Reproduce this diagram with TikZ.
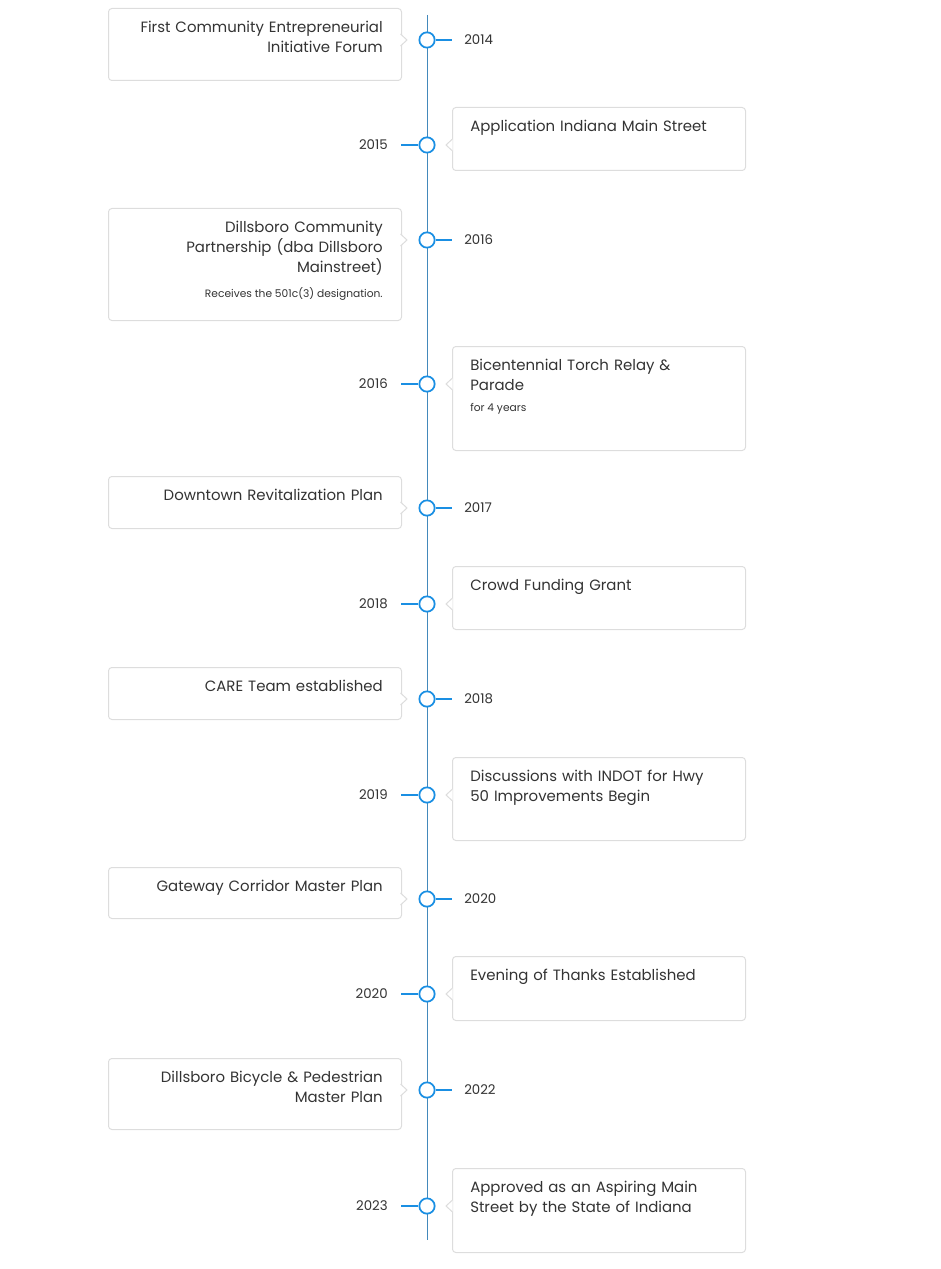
\documentclass[tikz,border=0pt]{standalone}
\usepackage{fontspec}
\setmainfont{Poppins}
\usetikzlibrary{calc}
\definecolor{tblue}{HTML}{1A8FE3}
\definecolor{tborder}{HTML}{DDDDDD}
\definecolor{ttext}{HTML}{333333}
\tikzset{
  x=0.75pt,y=-0.75pt,
  card/.style={draw=tborder,line width=0.75pt,fill=white,rounded corners=2.5pt,minimum width=219.75pt,inner sep=0pt},
  dot/.style={circle,draw=tblue,line width=1.3pt,fill=white,minimum size=11.5pt,inner sep=0pt},
  yr/.style={font=\fontsize{10}{12}\selectfont,text=ttext,inner sep=0pt},
  ttl/.style={font=\fontsize{11.2}{15}\selectfont,text=ttext,inner sep=0pt,text width=210pt},
  sub/.style={font=\fontsize{8}{10}\selectfont,text=ttext,inner sep=0pt},
  conn/.style={draw=tblue,line width=0.8pt},
}
% #1 name, #2 circle y, #3 box top, #4 box bottom, #5 year, #6 title, #7 subtitle
\newcommand{\leftentry}[7]{
  \node[card,minimum height={(#4-#3)*0.75pt},anchor=north west] (#1box) at (108,#3) {};
  \fill[white] (400.5,#2-6) -- (407,#2) -- (400.5,#2+6) -- cycle;
  \draw[tborder,line width=0.75pt] (400.5,#2-6) -- (407,#2) -- (400.5,#2+6);
  \node[ttl,align=right,anchor=north east] (#1t) at (383,#3+13) {#6};
  \ifx\relax#7\relax\else\node[sub,anchor=north east] (#1s) at (#1t.south east) [yshift=-9pt] {#7};\fi
  \node[dot] (#1c) at (427,#2) {};
  \coordinate (#1e) at (452,#2);
  \draw[conn] (#1c) -- (#1e);
  \node[yr,anchor=west] (#1y) at (464,#2) {#5};
}
\newcommand{\rightentry}[7]{
  \node[card,minimum height={(#4-#3)*0.75pt},anchor=north west] (#1box) at (452,#3) {};
  \fill[white] (452.5,#2-6) -- (446,#2) -- (452.5,#2+6) -- cycle;
  \draw[tborder,line width=0.75pt] (452.5,#2-6) -- (446,#2) -- (452.5,#2+6);
  \node[ttl,align=left,anchor=north west] (#1t) at (470,#3+13) {#6};
  \ifx\relax#7\relax\else\node[sub,anchor=north west] (#1s) at (#1t.south west) [yshift=-9pt] {#7};\fi
  \node[dot] (#1c) at (427,#2) {};
  \coordinate (#1e) at (401,#2);
  \draw[conn] (#1c) -- (#1e);
  \node[yr,anchor=east] (#1y) at (388,#2) {#5};
}
\begin{document}
\begin{tikzpicture}
\useasboundingbox (0,0) rectangle (940,1269);
\coordinate (axtop) at (427,15);
\coordinate (axbot) at (427,1240);
\draw[tblue!60!gray,line width=0.7pt] (axtop) -- (axbot);
\leftentry{a}{40}{8}{80}{2014}{First Community Entrepreneurial\\Initiative Forum}{}
\rightentry{b}{145}{107}{170}{2015}{Application Indiana Main Street}{}
\leftentry{c}{240}{208}{320}{2016}{Dillsboro Community\\Partnership (dba Dillsboro\\Mainstreet)}{Receives the 501c(3) designation.}
\rightentry{d}{384}{346}{450}{2016}{Bicentennial Torch Relay \&\\Parade}{for 4 years}
\leftentry{e}{508}{476}{528}{2017}{Downtown Revitalization Plan}{}
\rightentry{f}{604}{566}{629}{2018}{Crowd Funding Grant}{}
\leftentry{g}{699}{667}{719}{2018}{CARE Team established}{}
\rightentry{h}{795}{757}{840}{2019}{Discussions with INDOT for Hwy\\50 Improvements Begin}{}
\leftentry{i}{899}{867}{918}{2020}{Gateway Corridor Master Plan}{}
\rightentry{j}{994}{956}{1020}{2020}{Evening of Thanks Established}{}
\leftentry{k}{1090}{1058}{1129}{2022}{Dillsboro Bicycle \& Pedestrian\\Master Plan}{}
\rightentry{l}{1206}{1168}{1252}{2023}{Approved as an Aspiring Main\\Street by the State of Indiana}{}
\end{tikzpicture}
\end{document}
